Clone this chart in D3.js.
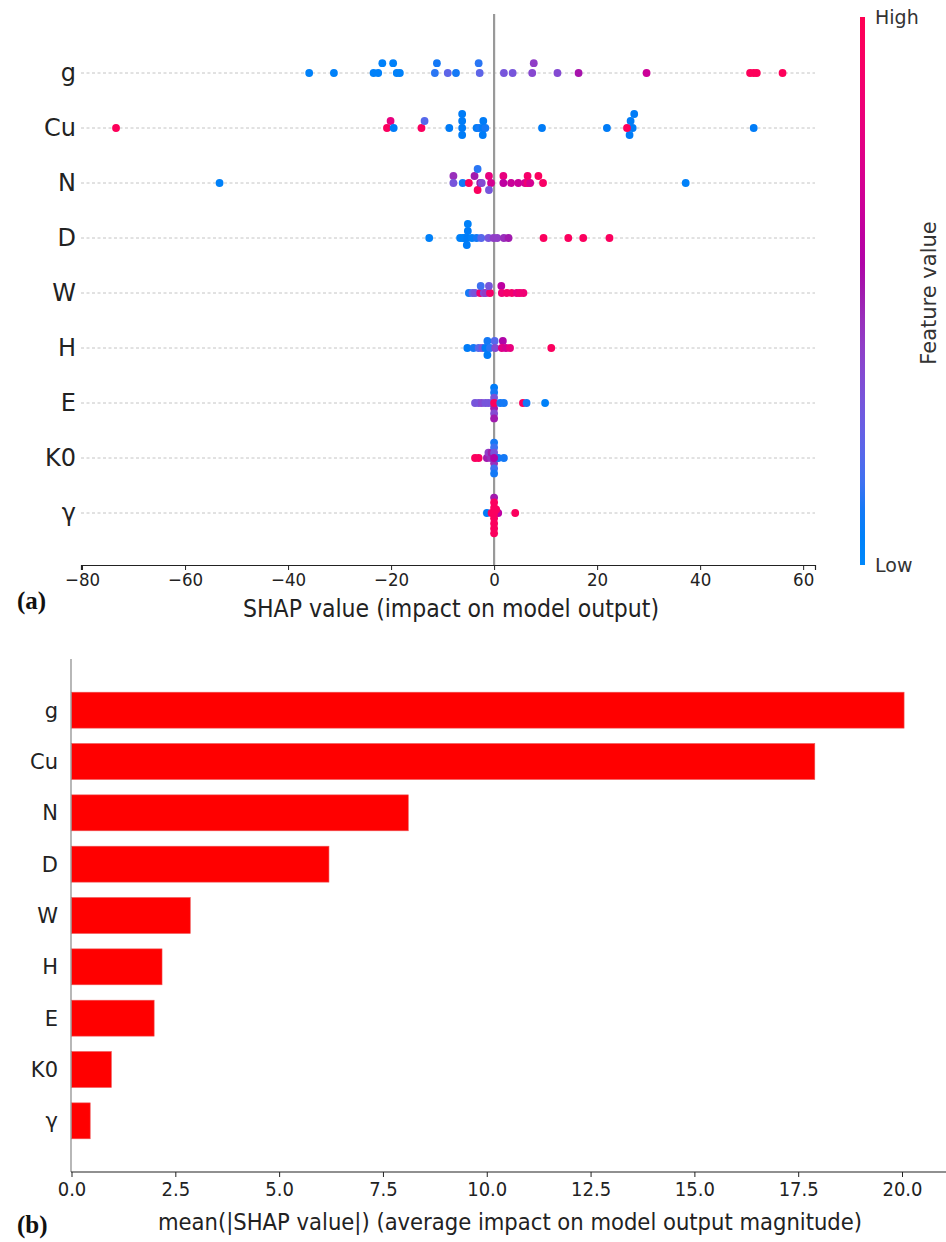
<!DOCTYPE html>
<html>
<head>
<meta charset="utf-8">
<script src="https://cdn.jsdelivr.net/npm/d3@7"></script>
<style>
  html, body { margin: 0; padding: 0; background: #fff; }
  svg { display: block; }
  .tick text { font-family: "DejaVu Sans Condensed", "DejaVu Sans", sans-serif; font-stretch: condensed; }
</style>
</head>
<body>
<svg id="chart" width="946" height="1242"></svg>
<script>
// ---------------- DATA ----------------
const features = ["g", "Cu", "N", "D", "W", "H", "E", "K0", "γ"];

// beeswarm points per feature: [SHAP value, stack level (+ up), feature value 0..1 (low..high)]
const shap_g = [
  [-35.9,0,0.05],[-31.1,0,0.05],[-23.4,0,0.05],[-22.5,0,0.05],[-21.7,1.4,0.05],[-19.6,1.4,0.05],
  [-18.9,0,0.05],[-18.3,0,0.05],[-11.5,0,0.12],[-11.1,1.4,0.1],[-9.0,0,0.22],[-7.4,0,0.1],
  [-3.0,1.4,0.12],[-2.8,0,0.22],[1.9,0,0.3],[3.6,0,0.3],[7.4,0,0.36],[7.7,1.4,0.4],
  [12.3,0,0.35],[16.4,0,0.52],[29.6,0,0.66],[49.7,0,0.97],[50.4,0,0.97],[51.0,0,0.97],[56.0,0,0.97]
];
const shap_Cu = [
  [-73.4,0,0.97],[-20.8,0,0.95],[-20.1,1,0.8],[-19.5,0,0.08],[-14.1,0,0.95],[-13.5,1,0.2],
  [-8.7,0,0.08],[-6.2,2,0.08],[-6.2,1,0.08],[-6.2,0,0.08],[-6.2,-1,0.08],
  [-3.4,0,0.08],[-2.9,0,0.1],[-2.2,0,0.08],[-1.7,0,0.1],[-2.1,1,0.08],[-2.2,-1,0.08],
  [9.3,0,0.08],[21.9,0,0.08],[26.9,0,0.08],[26.5,1,0.08],[27.2,2,0.08],[26.3,-1,0.08],
  [25.8,0,0.97],[50.4,0,0.08]
];
const shap_N = [
  [-53.3,0,0.05],[-7.9,1,0.45],[-7.9,0,0.3],[-6.1,0,0.1],[-4.9,0,0.95],[-3.8,1,0.5],
  [-3.2,2,0.12],[-3.2,-1,0.95],[-2.7,0,0.5],[-2.4,0,0.35],[-1.0,1,0.8],[-0.6,0,0.7],
  [-1.0,-1,0.3],[1.8,1,0.8],[1.8,0,0.6],[3.3,0,0.65],[4.7,0,0.65],[6.0,0,0.7],
  [6.5,0,0.85],[7.0,0,0.7],[6.5,1,0.9],[8.6,1,0.95],[9.5,0,0.92],[37.2,0,0.05]
];
const shap_D = [
  [-12.6,0,0.05],[-6.6,0,0.05],[-6.0,0,0.05],[-5.8,0,0.05],[-5.2,0,0.08],[-4.3,0,0.05],
  [-3.4,0,0.1],[-2.5,0,0.2],[-5.1,1,0.08],[-5.1,2,0.05],[-5.3,-1,0.08],[-1.1,0,0.3],
  [-0.1,0,0.4],[0.6,0,0.4],[1.9,0,0.45],[2.8,0,0.5],[9.6,0,0.95],[14.4,0,0.95],
  [17.3,0,0.95],[22.4,0,0.95]
];
const shap_W = [
  [-4.9,0,0.1],[-4.2,0,0.25],[-3.7,0,0.3],[-2.7,0,0.85],[-2.0,0,0.35],[-1.6,0,0.4],
  [-0.8,0,0.9],[-2.6,1,0.15],[-1.0,1,0.3],[1.4,1,0.6],[1.5,0,0.85],[2.5,0,0.9],
  [3.4,0,0.9],[4.4,0,0.8],[5.0,0,0.85],[5.7,0,0.85]
];
const shap_H = [
  [-5.2,0,0.08],[-4.0,0,0.1],[-3.0,0,0.2],[-2.3,0,0.3],[-1.7,0,0.08],[-0.8,0,0.12],
  [-1.3,1,0.1],[0.1,1,0.2],[1.7,1,0.55],[-1.3,-1,0.08],[0.2,0,0.35],[1.5,0,0.75],
  [2.3,0,0.7],[3.1,0,0.8],[11.1,0,0.95]
];
const shap_E = [
  [-3.7,0,0.3],[-3.0,0,0.3],[-2.4,0,0.35],[-1.7,0,0.3],[-1.1,0,0.3],[-0.4,0,0.3],
  [0,2.2,0.08],[0,1.5,0.1],[0,0.75,0.3],[0,-0.75,0.5],[0,-1.5,0.35],[0,-2.2,0.5],[0,0,0.95],
  [1.2,0,0.1],[1.9,0,0.1],[5.6,0,0.95],[6.3,0,0.1],[9.9,0,0.05]
];
const shap_K0 = [
  [-3.7,0,0.95],[-3.0,0,0.95],[-1.4,0,0.5],[-1.1,0.75,0.4],[-0.6,0,0.45],[-0.5,0.75,0.5],
  [0,2.2,0.1],[0,1.5,0.15],[0,0.75,0.3],[0,-0.75,0.45],[0,-1.5,0.15],[0,-2.2,0.1],
  [0.8,0,0.1],[1.9,0,0.1],[0,0,0.55]
];
const shap_gamma = [
  [-1.4,0,0.08],[0.8,0,0.6],[0,2.2,0.5],[0,1.5,0.95],[0,0.75,0.95],[0,-0.75,0.95],
  [0,-1.5,0.95],[0,-2.2,0.95],[0,-2.9,0.95],[-0.5,0,0.95],[0.4,0.5,0.95],[0,0,0.95],[4.1,0,0.95]
];
const beeswarm = [shap_g, shap_Cu, shap_N, shap_D, shap_W, shap_H, shap_E, shap_K0, shap_gamma];

// mean |SHAP| per feature (panel b)
const meanAbsShap = [20.05, 17.9, 8.11, 6.2, 2.86, 2.18, 1.99, 0.96, 0.45];

const topTicks = [-80, -60, -40, -20, 0, 20, 40, 60];
const bottomTicks = [0, 2.5, 5, 7.5, 10, 12.5, 15, 17.5, 20];

// ---------------- COLOUR MAP (SHAP red_blue, LCh) ----------------
function shapColor(t) {
  const h = 267 + 113 * t;
  const c = 70 + 20 * t;
  const l = 54 - 28 * Math.min(t, 1 - t);
  return d3.hcl(h, c, l).formatHex();
}

const svg = d3.select("#chart");
const fontMain = "'DejaVu Sans', sans-serif";
const fontCond = "'DejaVu Sans Condensed', 'DejaVu Sans', sans-serif";

// ================= PANEL (a) =================
const xTop = d3.scaleLinear().domain([-80.2, 62.3]).range([81, 815]);
const yTop = d3.scalePoint().domain(features).range([73, 513]);
const levelStep = 7;
const axisYTop = 565;

// dashed row lines
svg.append("g").selectAll("line").data(features).join("line")
  .attr("x1", xTop.range()[0]).attr("x2", xTop.range()[1])
  .attr("y1", d => yTop(d)).attr("y2", d => yTop(d))
  .attr("stroke", "#c4c4c4").attr("stroke-width", 1).attr("stroke-dasharray", "3,2.5");

// zero line
svg.append("line")
  .attr("x1", xTop(0)).attr("x2", xTop(0)).attr("y1", 14).attr("y2", axisYTop)
  .attr("stroke", "#999").attr("stroke-width", 2.2);

// dots
const dotG = svg.append("g");
features.forEach((f, i) => {
  dotG.selectAll(null).data(beeswarm[i]).join("circle")
    .attr("cx", d => xTop(d[0]))
    .attr("cy", d => yTop(f) - d[1] * levelStep)
    .attr("r", 3.9)
    .attr("fill", d => shapColor(d[2]));
});

// x axis
const axTop = svg.append("g").attr("transform", `translate(0,${axisYTop})`)
  .call(d3.axisBottom(xTop).tickValues(topTicks).tickSize(5).tickPadding(3)
    .tickFormat(d => d < 0 ? "\u2212" + Math.abs(d) : d));
axTop.select(".domain").attr("stroke", "#222").attr("stroke-width", 1.2);
axTop.selectAll(".tick line").attr("stroke", "#222");
axTop.selectAll(".tick text").attr("font-size", 18.5).attr("fill", "#222");

// y labels
svg.append("g").selectAll("text").data(features).join("text")
  .attr("x", 76).attr("y", d => yTop(d)).attr("dy", "0.35em")
  .attr("text-anchor", "end").attr("font-family", fontMain).attr("font-size", 24)
  .attr("fill", "#222").text(d => d);

svg.append("text").attr("x", 451).attr("y", 617).attr("text-anchor", "middle")
  .attr("font-family", fontCond).attr("font-stretch", "condensed")
  .attr("font-size", 24.5).attr("fill", "#222")
  .text("SHAP value (impact on model output)");

svg.append("text").attr("x", 17).attr("y", 609)
  .attr("font-family", "'Liberation Serif', 'DejaVu Serif', serif").attr("font-weight", "bold")
  .attr("font-size", 25).attr("fill", "#111").text("(a)");

// colorbar
const defs = svg.append("defs");
const grad = defs.append("linearGradient").attr("id", "cbar")
  .attr("x1", 0).attr("y1", 1).attr("x2", 0).attr("y2", 0);
d3.range(0, 1.0001, 0.05).forEach(t => {
  grad.append("stop").attr("offset", t).attr("stop-color", shapColor(t));
});
const cbY = d3.scaleLinear().domain([0, 1]).range([565, 17]);
svg.append("rect").attr("x", 860).attr("y", cbY(1)).attr("width", 5)
  .attr("height", cbY(0) - cbY(1)).attr("fill", "url(#cbar)");
svg.append("text").attr("x", 875).attr("y", cbY(1)).attr("dy", "0.35em")
  .attr("font-family", fontMain).attr("font-size", 19).attr("fill", "#333").text("High");
svg.append("text").attr("x", 875).attr("y", cbY(0)).attr("dy", "0.35em")
  .attr("font-family", fontMain).attr("font-size", 19).attr("fill", "#333").text("Low");
svg.append("text").attr("transform", `translate(936,${cbY(0.5) + 2}) rotate(-90)`)
  .attr("text-anchor", "middle").attr("font-family", fontMain).attr("font-size", 21)
  .attr("fill", "#333").text("Feature value");

// ================= PANEL (b) =================
const xBot = d3.scaleLinear().domain([0, 20]).range([71.5, 902]);
const yBot = d3.scaleBand().domain(features).range([684.5, 1146.5]).paddingInner(0.3).paddingOuter(0.15);
const axisYBot = 1172;
const spineX = 71;

svg.append("g").selectAll("rect").data(features).join("rect")
  .attr("x", xBot(0))
  .attr("y", d => yBot(d))
  .attr("width", (d, i) => xBot(meanAbsShap[i]) - xBot(0))
  .attr("height", yBot.bandwidth())
  .attr("fill", "#ff0000").attr("stroke", "#e55").attr("stroke-width", 0.6);

// left spine
svg.append("line").attr("x1", spineX).attr("x2", spineX).attr("y1", 659).attr("y2", axisYBot)
  .attr("stroke", "#888").attr("stroke-width", 1.2);

// x axis
const axBot = svg.append("g").attr("transform", `translate(0,${axisYBot})`)
  .call(d3.axisBottom(xBot).tickValues(bottomTicks).tickSize(5).tickPadding(5)
    .tickFormat(d3.format(".1f")));
axBot.select(".domain").remove();
axBot.append("line").attr("x1", spineX).attr("x2", 946).attr("stroke", "#222").attr("stroke-width", 1.2);
axBot.selectAll(".tick line").attr("stroke", "#222");
axBot.selectAll(".tick text").attr("font-size", 20).attr("fill", "#222");

svg.append("g").selectAll("text").data(features).join("text")
  .attr("x", 58).attr("y", d => yBot(d) + yBot.bandwidth() / 2).attr("dy", "0.35em")
  .attr("text-anchor", "end").attr("font-family", fontMain).attr("font-size", 21)
  .attr("fill", "#222").text(d => d);

svg.append("text").attr("x", 510).attr("y", 1230).attr("text-anchor", "middle")
  .attr("font-family", fontCond).attr("font-stretch", "condensed")
  .attr("font-size", 23.5).attr("fill", "#222")
  .text("mean(|SHAP value|) (average impact on model output magnitude)");

svg.append("text").attr("x", 17).attr("y", 1233)
  .attr("font-family", "'Liberation Serif', 'DejaVu Serif', serif").attr("font-weight", "bold")
  .attr("font-size", 25).attr("fill", "#111").text("(b)");
</script>
</body>
</html>
